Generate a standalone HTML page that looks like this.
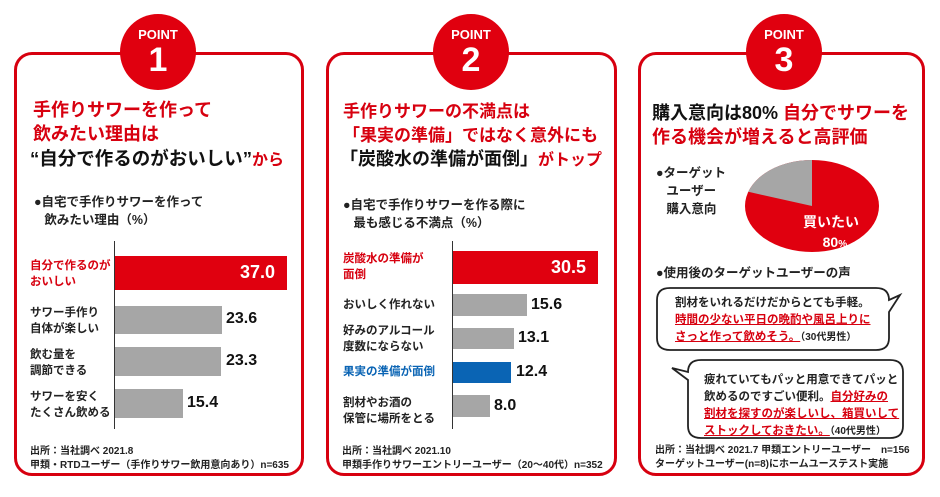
<!DOCTYPE html>
<html><head><meta charset="utf-8"><style>
body{margin:0;width:940px;height:497px;background:#fff;position:relative;overflow:hidden;font-family:"Liberation Sans","Noto Sans CJK JP",sans-serif;color:#222}
.a{position:absolute;white-space:nowrap}
.box{position:absolute;border:3px solid #d7000f;border-radius:18px;top:52px;height:424px;box-sizing:border-box}
.c{position:absolute;width:76px;height:76px;border-radius:50%;background:#e0000f;top:14px;color:#fff;text-align:center}
.c .p{font-size:13px;font-weight:bold;margin-top:14px;line-height:14px}
.c .n{font-size:34px;font-weight:bold;line-height:36px}
.t{font-weight:bold;font-size:18px;color:#d7000f;line-height:24px}
.k{color:#111}
.s{font-size:12.5px;line-height:18px;font-weight:bold;color:#222}
.l{font-size:11.5px;line-height:16px;font-weight:bold;color:#222}
.v{font-size:16px;font-weight:bold;color:#111}
.bar{position:absolute;background:#a6a6a6}
.f{font-size:10px;line-height:14px;color:#222;font-weight:bold}
.u{color:#d7000f;text-decoration:underline;text-decoration-color:#d7000f}
</style></head><body>
<div class="box" style="left:14px;width:290px"></div>
<div class="box" style="left:326px;width:291px"></div>
<div class="box" style="left:638px;width:287px"></div>
<div class="c" style="left:120px"><div class="p">POINT</div><div class="n">1</div></div>
<div class="c" style="left:433px"><div class="p">POINT</div><div class="n">2</div></div>
<div class="c" style="left:746px"><div class="p">POINT</div><div class="n">3</div></div>

<!-- panel 1 -->
<div class="a t" style="left:33px;top:98px">手作りサワーを作って<br>飲みたい理由は</div>
<div class="a t" style="left:30px;top:147px;font-size:18.5px"><span class="k">“自分で作るのがおいしい”</span><span style="font-size:16px">から</span></div>
<div class="a s" style="left:34px;top:193px">●自宅で手作りサワーを作って<br>&nbsp;&nbsp;&nbsp;飲みたい理由（%）</div>
<div class="a" style="left:114px;top:241px;width:1px;height:188px;background:#333"></div>
<div class="bar" style="left:115px;top:256px;width:172px;height:34px;background:#e0000f"></div>
<div class="a v" style="left:240px;top:262px;color:#fff;font-size:18px">37.0</div>
<div class="bar" style="left:115px;top:306px;width:107px;height:28px"></div>
<div class="a v" style="left:226px;top:310px">23.6</div>
<div class="bar" style="left:115px;top:347px;width:106px;height:29px"></div>
<div class="a v" style="left:226px;top:352px">23.3</div>
<div class="bar" style="left:115px;top:389px;width:68px;height:29px"></div>
<div class="a v" style="left:187px;top:394px">15.4</div>
<div class="a l" style="left:30px;top:258px;color:#d7000f">自分で作るのが<br>おいしい</div>
<div class="a l" style="left:30px;top:305px">サワー手作り<br>自体が楽しい</div>
<div class="a l" style="left:30px;top:347px">飲む量を<br>調節できる</div>
<div class="a l" style="left:30px;top:389px">サワーを安く<br>たくさん飲める</div>
<div class="a f" style="left:30px;top:445px">出所：当社調べ 2021.8<br>甲類・RTDユーザー（手作りサワー飲用意向あり）n=635</div>

<!-- panel 2 -->
<div class="a t" style="left:343px;top:100px;font-size:17px">手作りサワーの不満点は<br>「果実の準備」ではなく意外にも</div>
<div class="a t" style="left:340px;top:147px;font-size:18px"><span class="k">「炭酸水の準備が面倒」</span><span style="font-size:16px">がトップ</span></div>
<div class="a s" style="left:343px;top:196px">●自宅で手作りサワーを作る際に<br>&nbsp;&nbsp;&nbsp;最も感じる不満点（%）</div>
<div class="a" style="left:452px;top:241px;width:1px;height:188px;background:#333"></div>
<div class="bar" style="left:453px;top:251px;width:145px;height:33px;background:#e0000f"></div>
<div class="a v" style="left:551px;top:257px;color:#fff;font-size:18px">30.5</div>
<div class="bar" style="left:453px;top:294px;width:74px;height:22px"></div>
<div class="a v" style="left:531px;top:296px">15.6</div>
<div class="bar" style="left:453px;top:328px;width:61px;height:21px"></div>
<div class="a v" style="left:518px;top:329px">13.1</div>
<div class="bar" style="left:453px;top:362px;width:58px;height:21px;background:#0a64b4"></div>
<div class="a v" style="left:516px;top:363px">12.4</div>
<div class="bar" style="left:453px;top:395px;width:37px;height:22px"></div>
<div class="a v" style="left:494px;top:397px">8.0</div>
<div class="a l" style="left:343px;top:251px;color:#d7000f">炭酸水の準備が<br>面倒</div>
<div class="a l" style="left:343px;top:297px">おいしく作れない</div>
<div class="a l" style="left:343px;top:323px">好みのアルコール<br>度数にならない</div>
<div class="a l" style="left:343px;top:364px;color:#0a64b4">果実の準備が面倒</div>
<div class="a l" style="left:343px;top:395px">割材やお酒の<br>保管に場所をとる</div>
<div class="a f" style="left:342px;top:445px">出所：当社調べ 2021.10<br>甲類手作りサワーエントリーユーザー（20〜40代）n=352</div>

<!-- panel 3 -->
<div class="a t" style="left:652px;top:101px"><span class="k">購入意向は80%</span> 自分でサワーを<br>作る機会が増えると高評価</div>
<div class="a s" style="left:656px;top:164px;line-height:18px">●ターゲット<br>&nbsp;&nbsp;&nbsp;ユーザー<br>&nbsp;&nbsp;&nbsp;購入意向</div>
<svg class="a" style="left:0;top:0" width="940" height="497">
<ellipse cx="812" cy="206" rx="67" ry="46" fill="#e0000f"/>
<path d="M812,206 L812,160 A67,46 0 0 0 748.3,191.8 Z" fill="#a6a6a6"/>
<path d="M670,288 H876 Q889,288 889,300 L900,295 L889,312 V338 Q889,350 876,350 H670 Q657,350 657,338 V300 Q657,288 670,288 Z" fill="#fff" stroke="#222" stroke-width="1.8"/>
<path d="M701,360 H890 Q903,360 903,372 V426 Q903,438 890,438 H701 Q688,438 688,426 V380 L672,368 L688,372 Q688,360 701,360 Z" fill="#fff" stroke="#222" stroke-width="1.8"/>
</svg>
<div class="a" style="left:803px;top:212px;color:#fff;font-weight:bold;font-size:14px;line-height:20px;text-align:center">買いたい<br>&nbsp;&nbsp;80<span style="font-size:10px">%</span></div>
<div class="a s" style="left:656px;top:264px">●使用後のターゲットユーザーの声</div>
<div class="a l" style="left:675px;top:295px;line-height:17px">割材をいれるだけだからとても手軽。<br><span class="u">時間の少ない平日の晩酌や風呂上りに</span><br><span class="u">さっと作って飲めそう。</span><span style="font-size:10px">（30代男性）</span></div>
<div class="a l" style="left:704px;top:372px;line-height:17px">疲れていてもパッと用意できてパッと<br>飲めるのですごい便利。<span class="u">自分好みの</span><br><span class="u">割材を探すのが楽しいし、箱買いして</span><br><span class="u">ストックしておきたい。</span><span style="font-size:10px">（40代男性）</span></div>
<div class="a f" style="left:655px;top:444px">出所：当社調べ 2021.7 甲類エントリーユーザー　n=156<br>ターゲットユーザー(n=8)にホームユーステスト実施</div>
</body></html>
